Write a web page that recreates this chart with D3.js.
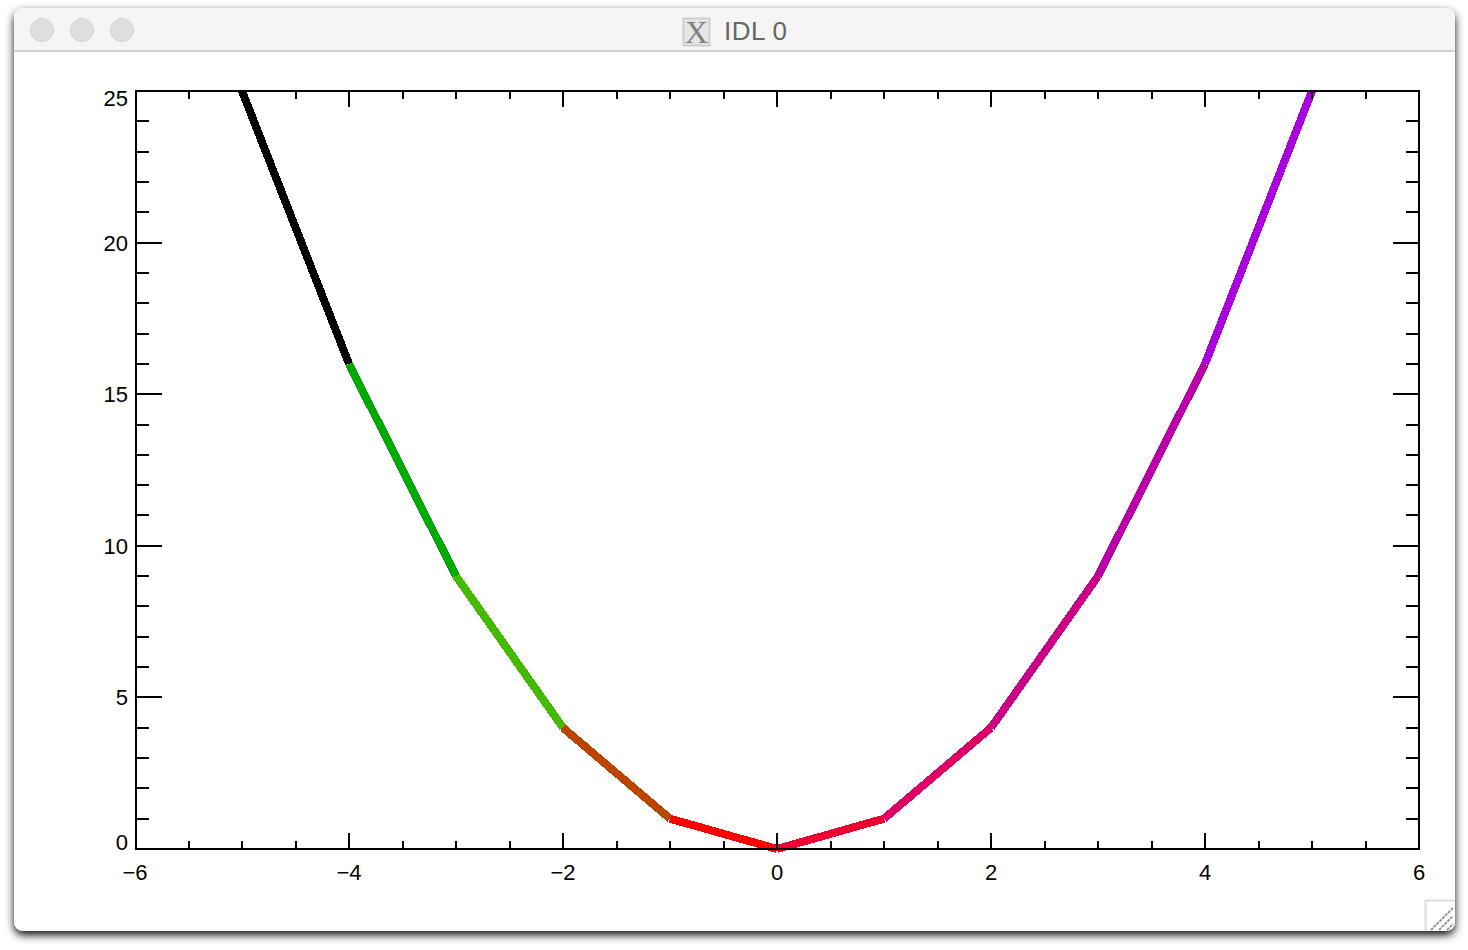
<!DOCTYPE html>
<html><head><meta charset="utf-8">
<script src="https://cdn.jsdelivr.net/npm/d3@7"></script>
<style>
html,body{margin:0;padding:0;background:#fff}
svg{display:block}
.lab{font-family:"Liberation Sans",Arial,sans-serif;font-size:22px;fill:#000}
</style></head><body>
<svg id="c" width="1468" height="950"></svg>
<script>
const xValues=[-5,-4,-3,-2,-1,0,1,2,3,4,5];
const yValues=[25,16,9,4,1,0,1,4,9,16,25];
const segmentColors=["#000000","#00aa00","#44bb00","#bb4400","#ff0000","#ee0033","#dd0066","#cc0088","#bb00aa","#aa00dd"];
const xMajorTicks=[-6,-4,-2,0,2,4,6];
const yMajorTicks=[0,5,10,15,20,25];
const xMinorTicks=d3.range(-5.5,6,0.5).filter(v=>!xMajorTicks.includes(v));
const yMinorTicks=d3.range(1,25).filter(v=>!yMajorTicks.includes(v));
const titleText="IDL 0";

const svg=d3.select("#c");
const defs=svg.append("defs");
const f=defs.append("filter").attr("id","sh").attr("x","-5%").attr("y","-5%").attr("width","110%").attr("height","110%");
f.append("feDropShadow").attr("dx",0).attr("dy",4).attr("stdDeviation",4).attr("flood-color","#000").attr("flood-opacity",0.95);

// window chrome
svg.append("rect").attr("x",14).attr("y",8).attr("width",1441).attr("height",923).attr("rx",9).attr("fill","#fff").attr("filter","url(#sh)");
svg.append("path").attr("d","M14 51V17a9 9 0 0 1 9-9H1446a9 9 0 0 1 9 9V51Z").attr("fill","#f5f5f5");
svg.append("line").attr("x1",14).attr("x2",1455).attr("y1",51).attr("y2",51).attr("stroke","#d2d2d2").attr("stroke-width",2);
svg.selectAll("circle.tl").data([42,82,122]).join("circle").attr("class","tl").attr("cx",d=>d).attr("cy",30).attr("r",11.5)
  .attr("fill","#dedede").attr("stroke","#d3d3d3").attr("stroke-width",1);
svg.append("rect").attr("x",683.5).attr("y",18.5).attr("width",26).attr("height",27).attr("fill","#e6e6e6").attr("stroke","#cfcfcf").attr("stroke-width",2);
svg.append("text").attr("x",696.5).attr("y",43).attr("text-anchor","middle").attr("fill","#808080")
  .style("font-family","'Liberation Serif',serif").style("font-size","32px").text("X");
svg.append("text").attr("x",724).attr("y",40).attr("fill","#666").attr("textLength",63)
  .style("font-family","'Liberation Sans',Arial,sans-serif").style("font-size","26px").text(titleText);
// resize grip
svg.append("path").attr("d","M1425.5 931V900.5H1455").attr("fill","none").attr("stroke","#dedede").attr("stroke-width",2);
svg.append("path").attr("d","M1431 930L1453 908M1439 930L1453 916M1447 930L1453 924").attr("fill","none").attr("stroke","#8c8c8c").attr("stroke-width",1.8).attr("stroke-dasharray","3 1");

// plot
const L=136,R=1419,T=91,B=849;
const x=d3.scaleLinear().domain([-6,6]).range([135,R]);
const y=d3.scaleLinear().domain([0,25]).range([B,T]);
const g=svg.append("g");

const line=d3.line().x(d=>x(d[0])).y(d=>y(d[1]));
g.selectAll("path.seg").data(segmentColors).join("path").attr("class","seg")
  .attr("d",(c,i)=>line([[xValues[i],yValues[i]],[xValues[i+1],yValues[i+1]]]))
  .attr("fill","none").attr("stroke",c=>c).attr("stroke-width",8).attr("shape-rendering","crispEdges");

function axis(gen,tx,ty,cls){
  const a=g.append("g").attr("transform",`translate(${tx},${ty})`).attr("class",cls).call(gen.offset(0));
  a.select(".domain").remove();
  a.selectAll("line").attr("stroke","#000").attr("stroke-width",2).attr("shape-rendering","crispEdges");
  a.selectAll("text").attr("class","lab").attr("fill","#000");
  return a;
}
const none=()=>"";
// x minor & major ticks, bottom and top
axis(d3.axisBottom(x).tickValues(xMinorTicks).tickSize(-8).tickFormat(none),0,B,"xmin");
axis(d3.axisTop(x).tickValues(xMinorTicks).tickSize(-8).tickFormat(none),0,T,"xmint");
axis(d3.axisTop(x).tickValues(xMajorTicks.slice(1,-1)).tickSize(-16).tickFormat(none),0,T,"xmajt");
const xa=axis(d3.axisBottom(x).tickValues(xMajorTicks).tickSize(-16).tickPadding(0).tickFormat(d3.format("d")),0,B,"xmaj");
xa.selectAll("text").attr("y",31).attr("dy",0);
xa.selectAll("line").filter(v=>v===-6||v===6).remove();
// y minor & major ticks, left and right
axis(d3.axisLeft(y).tickValues(yMinorTicks).tickSize(-13).tickFormat(none),L,0,"ymin");
axis(d3.axisRight(y).tickValues(yMinorTicks).tickSize(-13).tickFormat(none),R,0,"yminr");
axis(d3.axisRight(y).tickValues(yMajorTicks.slice(1,-1)).tickSize(-26).tickFormat(none),R,0,"ymajr");
const ya=axis(d3.axisLeft(y).tickValues(yMajorTicks).tickSize(-26).tickPadding(0).tickFormat(d3.format("d")),L,0,"ymaj");
ya.selectAll("text").attr("x",-8).attr("dy",0).attr("y",v=>v===25?15:v===0?1:8);
ya.selectAll("line").filter(v=>v===0||v===25).remove();

g.append("rect").attr("x",L).attr("y",T).attr("width",R-L).attr("height",B-T)
  .attr("fill","none").attr("stroke","#000").attr("stroke-width",2).attr("shape-rendering","crispEdges");
</script>
</body></html>
